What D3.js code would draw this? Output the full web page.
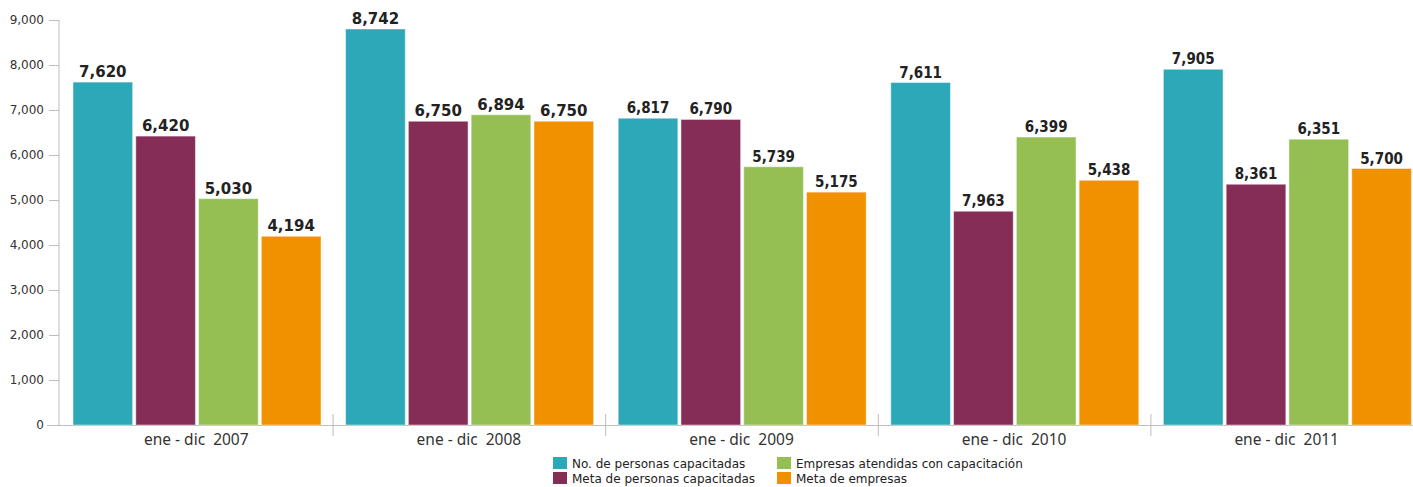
<!DOCTYPE html>
<html>
<head>
<meta charset="utf-8">
<script src="https://cdn.jsdelivr.net/npm/d3@7"></script>
<style>
  body { margin: 0; background: #fff; }
  svg { display: block; }
</style>
</head>
<body>
<div id="chart"></div>
<script>
"use strict";

// ── data ─────────────────────────────────────────────────────────────────────
const periods = ["ene - dic  2007", "ene - dic  2008", "ene - dic  2009", "ene - dic  2010", "ene - dic  2011"];
const seriesNames = [
  "No. de personas capacitadas",
  "Meta de personas capacitadas",
  "Empresas atendidas con capacitación",
  "Meta de empresas",
];
// bar heights as drawn
const personas      = [7620, 8800, 6817, 7611, 7905];
const metaPersonas  = [6420, 6750, 6790, 4750, 5350];
const empresas      = [5030, 6894, 5739, 6399, 6351];
const metaEmpresas  = [4194, 6750, 5175, 5438, 5700];
// value labels as printed
const personasLbl     = ["7,620", "8,742", "6,817", "7,611", "7,905"];
const metaPersonasLbl = ["6,420", "6,750", "6,790", "7,963", "8,361"];
const empresasLbl     = ["5,030", "6,894", "5,739", "6,399", "6,351"];
const metaEmpresasLbl = ["4,194", "6,750", "5,175", "5,438", "5,700"];
const yTicks = [0, 1000, 2000, 3000, 4000, 5000, 6000, 7000, 8000, 9000];

const COLORS = ["#2ca8b9", "#862d57", "#95bf53", "#f19100"];

const values = [personas, metaPersonas, empresas, metaEmpresas];
const labels = [personasLbl, metaPersonasLbl, empresasLbl, metaEmpresasLbl];

// ── chart ────────────────────────────────────────────────────────────────────
const W = 1413, H = 487;
const svg = d3.select("#chart").append("svg").attr("width", W).attr("height", H);

const x0 = d3.scaleBand().domain(periods).range([60, 1423]);
const x1 = d3.scaleBand().domain(d3.range(4)).range([13, 261]).paddingInner(0.05);
const y = d3.scaleLinear().domain([0, 9000]).range([425, 20]);

// Y axis
svg.append("g").attr("transform", "translate(59,0)")
  .call(d3.axisLeft(y).tickValues(yTicks).tickSize(10).tickPadding(5).tickFormat(d3.format(",")))
  .call(ax => {
    ax.select(".domain").attr("stroke", "#bdbdbd").attr("d", `M0,${y(9000)}V${y(0)}`);
    ax.selectAll(".tick line").attr("stroke", "#bdbdbd");
    ax.selectAll("text").attr("fill", "#333").attr("font-size", 12)
      .attr("font-family", "DejaVu Sans");
  });

// baseline
svg.append("line")
  .attr("x1", 47).attr("x2", W).attr("y1", y(0) + 0.5).attr("y2", y(0) + 0.5)
  .attr("stroke", "#bdbdbd");

// group separators
svg.append("g").selectAll("line").data(periods.slice(1)).join("line")
  .attr("x1", d => x0(d) + 0.5).attr("x2", d => x0(d) + 0.5)
  .attr("y1", y(0) - 11).attr("y2", y(0) + 11)
  .attr("stroke", "#bdbdbd");

// bars
const groups = svg.append("g").selectAll("g").data(periods).join("g")
  .attr("transform", d => `translate(${x0(d)},0)`);

groups.each(function(p, gi) {
  const g = d3.select(this);
  const rows = d3.range(4).map(s => ({ s, v: values[s][gi], t: labels[s][gi] }));
  g.selectAll("rect").data(rows).join("rect")
    .attr("x", d => x1(d.s))
    .attr("y", d => y(d.v))
    .attr("width", x1.bandwidth())
    .attr("height", d => y(0) - y(d.v))
    .attr("fill", d => COLORS[d.s])
    .attr("stroke", "rgba(255,255,255,0.45)")
    .attr("stroke-width", 1);
  g.selectAll("text").data(rows).join("text")
    .attr("x", d => x1(d.s) + x1.bandwidth() / 2)
    .attr("y", d => y(d.v) - 5)
    .attr("text-anchor", "middle")
    .attr("font-family", gi < 2 ? "DejaVu Sans" : "DejaVu Sans Condensed")
    .attr("font-weight", "bold")
    .attr("font-size", 15)
    .attr("fill", "#222")
    .text(d => d.t);
});

// category labels
svg.append("g").selectAll("text").data(periods).join("text")
  .attr("x", d => x0(d) + x0.bandwidth() / 2)
  .attr("y", 445)
  .attr("text-anchor", "middle")
  .attr("font-family", "Noto Sans")
  .attr("font-size", 15.5)
  .attr("fill", "#333")
  .style("white-space", "pre")
  .text(d => d);

// legend
const legendPos = [[553, 457], [553, 472], [777, 457], [777, 472]];
const leg = svg.append("g").selectAll("g").data(d3.range(4)).join("g")
  .attr("transform", d => `translate(${legendPos[d][0]},${legendPos[d][1]})`);
leg.append("rect").attr("width", 14).attr("height", 12).attr("fill", d => COLORS[d]);
leg.append("text").attr("x", 19).attr("y", 10.5)
  .attr("font-family", "DejaVu Sans").attr("font-size", 12).attr("fill", "#222")
  .text(d => seriesNames[d]);
</script>
</body>
</html>
